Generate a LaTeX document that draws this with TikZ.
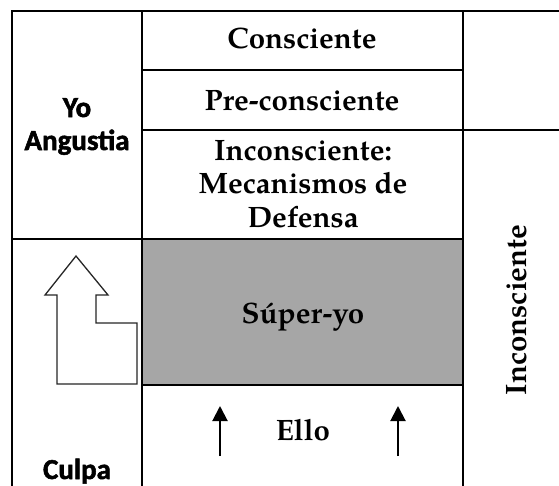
\documentclass[tikz,border=0pt]{standalone}
\usepackage{fontspec}
\newfontfamily\carlito{Carlito}[BoldFont={Carlito Bold}, BoldFeatures={FakeBold=1.8}]
\newfontfamily\pagella{TeX Gyre Pagella}
\usetikzlibrary{arrows.meta}
\definecolor{supergray}{HTML}{A6A6A6}
\begin{document}
\begin{tikzpicture}[x=1pt,y=-1pt,
  gridline/.style={line width=2.4pt, line cap=rect},
  serif/.style={font=\pagella\bfseries\fontsize{29.5}{33.5}\selectfont, align=center, inner sep=0pt},
  sans/.style={font=\carlito\bfseries\fontsize{29}{33}\selectfont, align=center, inner sep=0pt},
  uparrow/.style={line width=2pt, -{Triangle[length=15pt,width=15pt]}},
  blockarrow/.style={line width=1.3pt, draw=black!85, fill=white, line join=miter}]
\useasboundingbox (0,0) rectangle (559,485);
% gray band
\fill[supergray] (142,239) rectangle (463,385);
% grid lines
\draw[gridline] (12,11) -- (570,11);
\draw[gridline] (12,11) -- (12,495);
\draw[gridline] (142,11) -- (142,495);
\draw[gridline] (463,11) -- (463,495);
\draw[gridline] (142,70) -- (463,70);
\draw[gridline] (142,130) -- (570,130);
\draw[gridline] (12,239) -- (463,239);
\draw[gridline] (142,385) -- (463,385);
% texts
\node[serif, anchor=base] (consc) at (302,48) {Consciente};
\node[serif, anchor=base] (precon) at (302,110) {Pre-consciente};
\node[serif, anchor=base] (incon) at (303,227) {Inconsciente:\\Mecanismos de\\Defensa};
\node[serif, anchor=base] (super) at (303,323) {Súper-yo};
\node[serif, anchor=base] (ello) at (303,440) {Ello};
\node[serif, rotate=90] (inconr) at (517,310) {Inconsciente};
\node[sans, anchor=base] (yo) at (77,150) {Yo\\Angustia};
\node[sans, anchor=base] (culpa) at (77,479) {Culpa};
% small arrows
\coordinate (la0) at (220,456);
\coordinate (la1) at (220,406);
\coordinate (ra0) at (398,456);
\coordinate (ra1) at (398,406);
\draw[uparrow] (la0) -- (la1);
\draw[uparrow] (ra0) -- (ra1);
% block arrow
\draw[blockarrow] (76,256) -- (108,295) -- (96,295) -- (96,323) -- (137,323) -- (137,384) -- (57,384) -- (57,295) -- (45,295) -- cycle;
\end{tikzpicture}
\end{document}
